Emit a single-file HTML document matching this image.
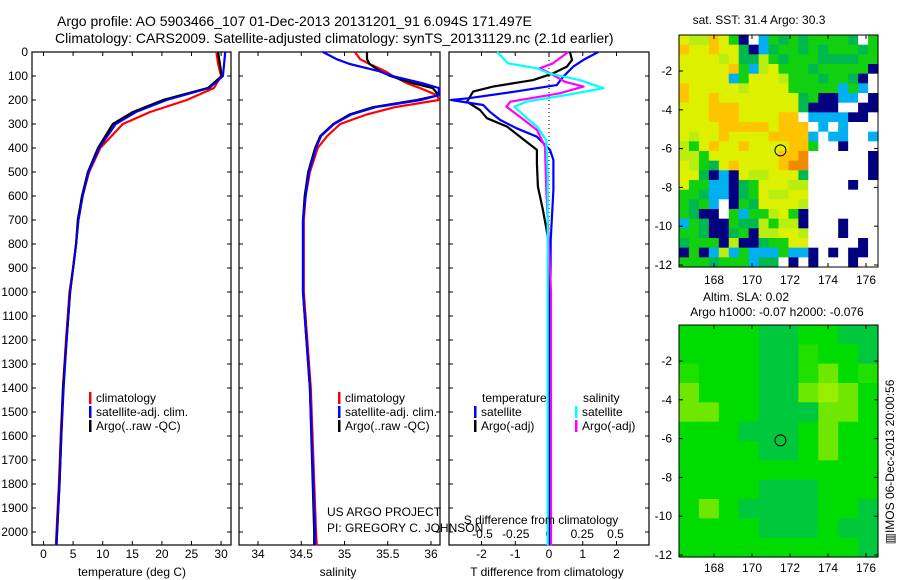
<!DOCTYPE html>
<html><head><meta charset="utf-8"><style>
html,body{margin:0;padding:0;background:#fff;}
svg{display:block;font-family:"Liberation Sans",sans-serif;}
text{fill:#000;}
</style></head><body>
<svg id="fig" width="900" height="580" viewBox="0 0 900 580" xmlns="http://www.w3.org/2000/svg">
<text x="57" y="26" font-size="14">Argo profile: AO 5903466_107 01-Dec-2013 20131201_91 6.094S 171.497E</text>
<text x="55" y="43" font-size="14">Climatology: CARS2009. Satellite-adjusted climatology: synTS_20131129.nc (2.1d earlier)</text>
<g id="g1"></g>
<g id="g2"></g>
<g id="g3"></g>
<g id="m1"></g>
<g id="m2"></g>
<text x="759" y="24" font-size="12" text-anchor="middle">sat. SST: 31.4 Argo: 30.3</text>
<text x="746" y="301" font-size="12" text-anchor="middle">Altim. SLA: 0.02</text>
<text x="777" y="316" font-size="12" text-anchor="middle">Argo h1000: -0.07 h2000: -0.076</text>
<text transform="translate(894,462) rotate(-90)" font-size="12" text-anchor="middle">▥IMOS 06-Dec-2013 20:00:56</text>
<text x="327" y="516" font-size="12">US ARGO PROJECT</text>
<text x="327" y="532" font-size="12">PI: GREGORY C. JOHNSON</text>
</svg>
<script>
// ---- data ----
const depthT = [0,50,100,150,200,250,300,400,500,600,700,800,900,1000,1200,1400,1600,1800,2000,2055];
const tempArgo = [29.5,29.8,30.1,27.8,20.2,15.1,11.7,9.2,7.5,6.5,5.8,5.5,5.0,4.5,3.9,3.3,3.0,2.7,2.3,2.2];
const tempClim = [29.2,29.5,30.0,28.8,24.2,18.0,13.4,9.6,7.7,6.6,5.9,5.5,5.0,4.4,3.8,3.3,2.9,2.6,2.2,2.1];
const tempSat = [30.7,30.5,30.3,28.0,20.8,15.6,12.2,9.4,7.6,6.6,5.9,5.5,5.0,4.5,3.9,3.4,3.0,2.7,2.3,2.2];
const depthS = [0,30,50,80,100,130,150,180,200,230,260,300,350,400,500,600,700,1000,1400,2000,2055];
const salArgo = [35.26,35.26,35.29,35.41,35.53,35.79,36.02,36.09,35.84,35.33,35.06,34.87,34.72,34.66,34.58,34.54,34.52,34.52,34.60,34.65,34.65];
const salSat = [34.75,34.91,35.06,35.4,35.55,35.9,36.09,36.09,35.88,35.36,35.08,34.88,34.73,34.67,34.59,34.55,34.52,34.52,34.6,34.66,34.66];
const salClim = [35.12,35.18,35.29,35.47,35.56,35.72,35.87,36.07,36.09,35.58,35.26,34.95,34.8,34.69,34.6,34.55,34.53,34.53,34.61,34.67,34.68];
const depthDTa = [0,33,61,89,117,144,165,207,242,276,311,353,408,464,561,658,728,800,2055];
const dTArgo = [0.62,0.68,0.53,0.12,-0.47,-1.66,-2.25,-2.43,-2.04,-1.84,-1.24,-0.86,-0.36,-0.36,-0.33,-0.18,-0.09,0,0];
const depthDTs = [0,33,61,103,138,165,193,200,221,249,283,318,353,408,450,575,783,1000,2055];
const dTSat = [1.46,1.02,0.72,0.42,0.23,-1.0,-2.4,-2.9,-1.95,-1.75,-1.45,-0.96,-0.36,0.03,0.13,0.13,0.05,0.04,0.04];
const depthDSs = [0,47,68,89,117,151,179,207,228,269,311,367,506,1000,2055];
const dSSat = [-0.39,-0.31,-0.09,0.0,0.23,0.41,0.13,-0.17,-0.26,-0.18,-0.09,-0.02,-0.01,-0.01,-0.01];
const depthDSa = [0,47,68,89,124,144,172,207,228,269,325,394,575,1000,2055];
const dSArgo = [0.145,0.03,-0.07,0.01,0.12,0.26,0.08,-0.29,-0.32,-0.22,-0.09,-0.03,-0.02,0.015,0.015];
const depthTicks = [0,100,200,300,400,500,600,700,800,900,1000,1100,1200,1300,1400,1500,1600,1700,1800,1900,2000];
const tempTicks = [0,5,10,15,20,25,30];
const salTicks = [34,34.5,35,35.5,36];
const dTTicks = [-2,-1,0,1,2];
const dSTicks = [-0.5,-0.25,0,0.25,0.5];
const latTicks = [-2,-4,-6,-8,-10,-12];
const lonTicks = [168,170,172,174,176];
const sstGrid = [
"ylloygnwcgGgGggggGwg","oyyoyyGncGggGgGgggGg","yyyylyGGlgGgggGGGGgg","yyyyyogclygggGgggggn",
"yyyyycgyyylgggGggGnw","oyyyyylyyyygggggcgcw","oyyoyyyyyyyyGgnnccwn","yyyoooyyyyyyGnnnwwnn",
"yyyoooyyyyoowccccnnw","yyyyoooooyooowcwcwww","ylyyoyyyyoooocwccwwc","lgyoyyoyyyyoogwwnwww",
"llgyyyyyyyooOwwwwwwn","ylgGyoyyyyoOOwwwwwwn","yyGncnyllyyyGwwwwwwn","yggccnGgyyyllwwwwnww",
"ggGccnGgyllyywwwwwww","gGgcwngGyyyylwwwwwww","gGnnwgcgglygnwwwwwww","cgGnngGGlgllnwwwnwww",
"ggGnnGgnllyylwwwnwww","GgggnlnnGggyywwwwwnw","ngnclcgcccgccnwnwnnw","gggGgggcGGwnwnwwwnww"];
const slaGrid = ["aaaaddaadd","aaaaddbaad","baaaddbeab","eaaaddefea","eeaadddeea","aaadddaeaa",
"aaaaddaeaa","aaaaaaaaaa","aaaadddaaa","aeaddddaad","aaaadddadd","aaaaaaaaad"];
const argoLon = 171.497, argoLat = -6.094;

const NS='http://www.w3.org/2000/svg';
function mk(parent,tag,attrs){const e=document.createElementNS(NS,tag);for(const k in attrs)e.setAttribute(k,attrs[k]);parent.appendChild(e);return e;}
const Y0=52, YB=545, YS=0.24;
const yD=d=>Y0+d*YS;

function panel(g,x0,x1,name){
  const r=mk(g,'rect',{x:x0,y:Y0,width:x1-x0,height:YB-Y0,fill:'none',stroke:'#000','stroke-width':1.2});
  
  
  depthTicks.forEach(d=>{
    mk(g,'line',{x1:x0,x2:x0+4,y1:yD(d),y2:yD(d),stroke:'#000'});
    mk(g,'line',{x1:x1-4,x2:x1,y1:yD(d),y2:yD(d),stroke:'#000'});
  });
}
function xticks(g,ticks,fx,labY,top,fmt){
  ticks.forEach(v=>{
    const x=fx(v);
    mk(g,'line',{x1:x,x2:x,y1:YB,y2:YB-4,stroke:'#000'});
    if(top) mk(g,'line',{x1:x,x2:x,y1:Y0,y2:Y0+4,stroke:'#000'});
    if(labY){const t=mk(g,'text',{x:x,y:labY,'font-size':12,'text-anchor':'middle'});t.textContent=fmt?fmt(v):v;
      
      }
  });
}
function line(g,xs,ds,fx,color,name,w){
  const pts=xs.map((v,i)=>fx(v).toFixed(1)+','+yD(ds[i]).toFixed(1)).join(' ');
  const p=mk(g,'polyline',{points:pts,fill:'none',stroke:color,'stroke-width':w||2.2,'stroke-linejoin':'round'});
  
  
}
function legend(g,x,y,color,label){
  mk(g,'rect',{x:x,y:y-10,width:2.5,height:12,fill:color});
  const t=mk(g,'text',{x:x+7,y:y,'font-size':12});t.textContent=label;
  
  
}
function title(g,x,y,s,name){const t=mk(g,'text',{x:x,y:y,'font-size':12,'text-anchor':'middle'});t.textContent=s;
  
  }

// depth labels
const g1=document.getElementById('g1');
depthTicks.forEach(d=>{const t=mk(g1,'text',{x:28,y:yD(d)+4,'font-size':12,'text-anchor':'end'});t.textContent=d;
  
  });
// panel 1
const fxT=v=>43.5+v*5.92;
panel(g1,32,231,'temperature');
xticks(g1,tempTicks,fxT,558,true);
line(g1,tempClim,depthT,fxT,'#ff0000','temp-climatology-line');
line(g1,tempSat,depthT,fxT,'#0000ff','temp-satellite-line');
line(g1,tempArgo,depthT,fxT,'#000000','temp-argo-line');
line(g1,tempSat,depthT,fxT,'#0000ff','temp-satellite-line-top',1.6);
title(g1,132,576,'temperature (deg C)','x-axis-title-temperature');
legend(g1,89,402,'#ff0000','climatology');
legend(g1,89,416,'#0000ff','satellite-adj. clim.');
legend(g1,89,430,'#000000','Argo(..raw -QC)');
// panel 2
const g2=document.getElementById('g2');
const fxS=v=>258+(v-34)*86.5;
panel(g2,239,440,'salinity');
xticks(g2,salTicks,fxS,558,true);
line(g2,salClim,depthS,fxS,'#ff0000','sal-climatology-line');
line(g2,salArgo,depthS,fxS,'#000000','sal-argo-line');
line(g2,salSat,depthS,fxS,'#0000ff','sal-satellite-line');
title(g2,338,576,'salinity','x-axis-title-salinity');
legend(g2,338,402,'#ff0000','climatology');
legend(g2,338,416,'#0000ff','satellite-adj. clim.');
legend(g2,338,430,'#000000','Argo(..raw -QC)');
// panel 3
const g3=document.getElementById('g3');
const fxDT=v=>549+v*33.75, fxDS=v=>549+v*133;
panel(g3,449,649,'difference');
xticks(g3,dTTicks,fxDT,558,true);
dSTicks.forEach(v=>{const t=mk(g3,'text',{x:fxDS(v),y:538,'font-size':12,'text-anchor':'middle'});t.textContent=v;
  
  });
mk(g3,'line',{x1:549,x2:549,y1:Y0,y2:YB,stroke:'#000','stroke-dasharray':'1,3'});
line(g3,dTArgo,depthDTa,fxDT,'#000000','dT-argo-line');
line(g3,dTSat,depthDTs,fxDT,'#0000ff','dT-satellite-line');
line(g3,dSArgo,depthDSa,fxDS,'#ff00ff','dS-argo-line');
line(g3,dSSat,depthDSs,fxDS,'#00ffff','dS-satellite-line');
title(g3,547,576,'T difference from climatology','x-axis-title-t-diff');
title(g3,541,524,'S difference from climatology','s-diff-title');
{const t=mk(g3,'text',{x:482,y:402,'font-size':12});t.textContent='temperature';
 
 }
{const t=mk(g3,'text',{x:583,y:402,'font-size':12});t.textContent='salinity';
 
 }
legend(g3,474,416,'#0000ff','satellite');
legend(g3,474,430,'#000000','Argo(-adj)');
legend(g3,575,416,'#00ffff','satellite');
legend(g3,575,430,'#ff00ff','Argo(-adj)');

// maps
function map(g,top,grid,colors,name,labY){
  const L=679,R=878,B=top+232;
  const lonX=v=>714+(v-168)*19, latY=v=>top+36+(-2-v)*19.4;
  const rows=grid.length, cols=grid[0].length, cw=(R-L)/cols, ch=(B-top)/rows;
  grid.forEach((row,i)=>{for(let j=0;j<cols;j++){
    const c=mk(g,'rect',{x:(L+j*cw).toFixed(2),y:(top+i*ch).toFixed(2),width:(cw+0.6).toFixed(2),height:(ch+0.6).toFixed(2),fill:colors[row[j]]});
    
    
  }});
  const f=mk(g,'rect',{x:L,y:top,width:R-L,height:B-top,fill:'none',stroke:'#000'});
  
  
  latTicks.forEach(v=>{const y=latY(v);
    mk(g,'line',{x1:L,x2:L+4,y1:y,y2:y,stroke:'#000'});mk(g,'line',{x1:R-4,x2:R,y1:y,y2:y,stroke:'#000'});
    const t=mk(g,'text',{x:672,y:y+4,'font-size':12,'text-anchor':'end'});t.textContent=v;
    
    });
  lonTicks.forEach(v=>{const x=lonX(v);
    mk(g,'line',{x1:x,x2:x,y1:top,y2:top+4,stroke:'#000'});mk(g,'line',{x1:x,x2:x,y1:B-4,y2:B,stroke:'#000'});
    const t=mk(g,'text',{x:x,y:labY,'font-size':12,'text-anchor':'middle'});t.textContent=v;
    
    });
  const c=mk(g,'circle',{cx:lonX(argoLon),cy:latY(argoLat),r:5.5,fill:'none',stroke:'#000'});
  
  
}
const sstColors={y:'#dcf000',l:'#b8ee10',o:'#ffc400',O:'#f08a00',g:'#10d010',G:'#00b850',c:'#00b0f0',n:'#000080',w:'#ffffff'};
const slaColors={a:'#00dc00',b:'#20e000',d:'#00c83c',e:'#6ee800',f:'#98ee00'};
map(document.getElementById('m1'),35,sstGrid,sstColors,'sst-map',284);
map(document.getElementById('m2'),325,slaGrid,slaColors,'sla-map',572);
</script>
</body></html>
